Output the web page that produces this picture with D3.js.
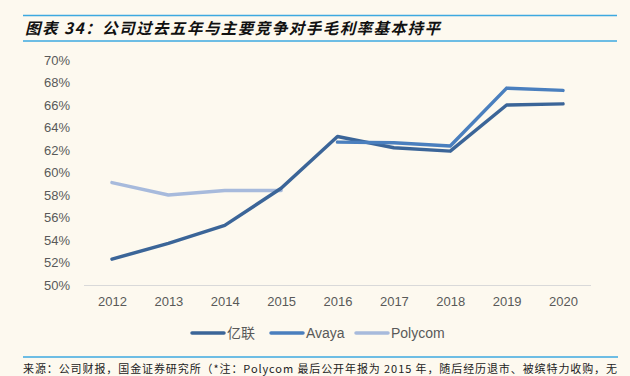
<!DOCTYPE html>
<html><head><meta charset="utf-8">
<script src="https://cdn.jsdelivr.net/npm/d3@7"></script>
<style>
html,body{margin:0;padding:0;background:#FDF9EF;}
svg{display:block;}
</style></head>
<body><svg id="c" width="630" height="376"></svg>
<script>
const years = ["2012","2013","2014","2015","2016","2017","2018","2019","2020"];
const yealink = [52.3, 53.7, 55.3, 58.6, 63.2, 62.2, 61.9, 66.0, 66.1];
const avaya = [null, null, null, null, 62.7, 62.65, 62.35, 67.5, 67.3];
const polycom = [59.1, 58.0, 58.4, 58.4, null, null, null, null, null];
const yTicks = [50,52,54,56,58,60,62,64,66,68,70];
const seriesNames = ["亿联","Avaya","Polycom"];
const seriesColors = ["#3B6598","#4A7FBE","#A7BADC"];
const title = "图表 34：公司过去五年与主要竞争对手毛利率基本持平";
const source = "来源：公司财报，国金证券研究所（*注：Polycom 最后公开年报为 2015 年，随后经历退市、被缤特力收购，无";

const svg = d3.select("#c");
const bg = "#FDF9EF";
svg.append("rect").attr("width",630).attr("height",376).attr("fill",bg);

// title
svg.append("line").attr("x1",23).attr("x2",617).attr("y1",15.5).attr("y2",15.5).attr("stroke","#3DA9E0").attr("stroke-width",1.5);
svg.append("line").attr("x1",23).attr("x2",617).attr("y1",41).attr("y2",41).attr("stroke","#3DA9E0").attr("stroke-width",1.5);
svg.append("text").attr("x",25).attr("y",34).text(title)
  .attr("font-family","'Noto Sans CJK SC', sans-serif").attr("font-size",15.5).attr("font-weight","bold")
  .attr("font-style","italic").attr("fill","#111")
  .attr("textLength",415).attr("lengthAdjust","spacing");

const x = d3.scalePoint().domain(years).range([112,563]);
const y = d3.scaleLinear().domain([50,70]).range([285,60]);

// axes
const gx = svg.append("g").attr("transform","translate(0,285)")
  .call(d3.axisBottom(x).tickSize(0).tickPadding(12));
gx.select(".domain").remove();
gx.selectAll("text").attr("font-family","'Liberation Sans', Arial, sans-serif").attr("font-size",13).attr("fill","#595959");
svg.append("line").attr("x1",84).attr("x2",591).attr("y1",285.5).attr("y2",285.5).attr("stroke","#D9D9D9").attr("stroke-width",1);

const gy = svg.append("g").attr("transform","translate(70,0)")
  .call(d3.axisLeft(y).tickValues(yTicks).tickFormat(d=>d+"%").tickSize(0).tickPadding(0));
gy.select(".domain").remove();
gy.selectAll("text").attr("font-family","'Liberation Sans', Arial, sans-serif").attr("font-size",13).attr("fill","#595959");

const line = d3.line().defined(d=>d[1]!=null).x(d=>x(d[0])).y(d=>y(d[1]));
const data = [yealink, avaya, polycom];
[2,0,1].forEach(i=>{
  svg.append("path").datum(years.map((yr,j)=>[yr,data[i][j]]))
    .attr("d",line).attr("fill","none").attr("stroke",seriesColors[i]).attr("stroke-width",3.5)
    .attr("stroke-linecap","round").attr("stroke-linejoin","round");
});

// legend
const legX = [192,271,356];
seriesNames.forEach((n,i)=>{
  svg.append("line").attr("x1",legX[i]).attr("x2",legX[i]+32).attr("y1",333).attr("y2",333)
    .attr("stroke",seriesColors[i]).attr("stroke-width",3.5).attr("stroke-linecap","round");
  svg.append("text").attr("x",legX[i]+35).attr("y",338).text(n)
    .attr("font-family","'Liberation Sans', 'Noto Sans CJK SC', sans-serif").attr("font-size",14).attr("fill","#595959");
});

// source
svg.append("line").attr("x1",23).attr("x2",618).attr("y1",357).attr("y2",357).attr("stroke","#3DA9E0").attr("stroke-width",1.5);
svg.append("text").attr("x",23).attr("y",373).text(source)
  .attr("font-family","'Noto Sans CJK SC', sans-serif").attr("font-size",11).attr("fill","#222")
  .attr("textLength",594).attr("lengthAdjust","spacing");
</script></body></html>
